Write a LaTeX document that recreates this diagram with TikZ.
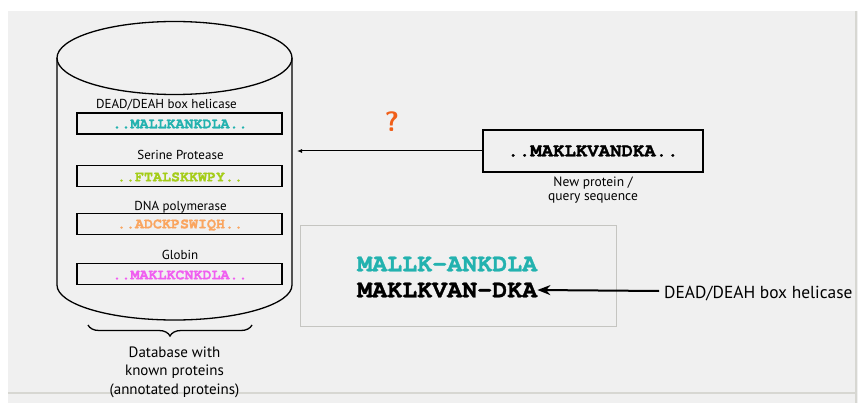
\documentclass[tikz,border=0pt]{standalone}
\usepackage{fontspec}
\setmainfont{PT Sans}
\newfontfamily\seqfont{texgyrecursor}[Extension=.otf,UprightFont=*-regular,BoldFont=*-bold,BoldFeatures={FakeBold=1.2}]
\usetikzlibrary{decorations.pathreplacing,arrows.meta}
\definecolor{bggray}{RGB}{240,240,240}
\definecolor{rulegray}{RGB}{215,215,210}
\definecolor{seqteal}{RGB}{35,178,175}
\definecolor{seqlime}{RGB}{165,205,25}
\definecolor{seqorange}{RGB}{250,165,95}
\definecolor{seqpink}{RGB}{240,95,240}
\definecolor{qorange}{RGB}{240,95,25}

\begin{document}
\begin{tikzpicture}
        [x=1pt,y=-1pt,
         lbl/.style={inner sep=0,font=\fontsize{13}{15}\selectfont},
         seqbox/.style={draw,line width=1.4pt,minimum width=205pt,minimum height=21pt,inner sep=0},
         seqtxt/.style={inner sep=0,font=\seqfont\bfseries\fontsize{15}{15}\selectfont},
         every draw/.style={black}]

        \useasboundingbox (0,0) rectangle (858,403);
        \fill[bggray] (8,11) rectangle (858,403);
        \draw[rulegray,line width=1.2pt] (856,11) -- (856,403);
        \draw[rulegray,line width=1.2pt] (8,393) -- (856,393);

        % database cylinder
        \draw[line width=1.3pt] (174.5,58) ellipse [x radius=117.5, y radius=36.5];
        \draw[line width=1.3pt] (57,58) -- (57,285) arc[start angle=180, end angle=0, x radius=117.5, y radius=35] -- (292,58);

        \node[lbl] (l1) at (166.5,105) {DEAD/DEAH box helicase};
        \node[seqbox] (b1) at (179.5,123.5) {};
        \node[seqtxt,text=seqteal] (s1) at (180,124) {..MALLKANKDLA..};

        \node[lbl] (l2) at (180.5,155) {Serine Protease};
        \node[seqbox] (b2) at (179.5,176) {};
        \node[seqtxt,text=seqlime] (s2) at (180,177) {..FTALSKKWPY..};

        \node[lbl] (l3) at (180.5,207) {DNA polymerase};
        \node[seqbox] (b3) at (179.5,224) {};
        \node[seqtxt,text=seqorange] (s3) at (180,225) {..ADCKPSWIQH..};

        \node[lbl] (l4) at (180,255) {Globin};
        \node[seqbox] (b4) at (179.5,274) {};
        \node[seqtxt,text=seqpink] (s4) at (180,275) {..MAKLKCNKDLA..};

        \coordinate (braceL) at (88,325);
        \coordinate (braceR) at (252,325);
        \draw[line width=1.3pt,decorate,decoration={brace,amplitude=11pt,mirror}] (braceL) -- (braceR);
        \node[lbl,align=center,font=\fontsize{15}{18.5}\selectfont] (dbname) at (174.5,372) {Database with\\known proteins\\(annotated proteins)};

        % query
        \node[draw,line width=1.3pt,minimum width=220pt,minimum height=42pt,inner sep=0,font=\seqfont\bfseries\fontsize{19}{19}\selectfont] (query) at (593,151) {..MAKLKVANDKA..};
        \node[lbl,align=center,font=\fontsize{13.5}{14.5}\selectfont] (qname) at (593,190) {New protein /\\query sequence};
        \coordinate (dbside) at (297,151);
        \draw[line width=1pt,-{Latex[length=5pt,width=4pt]}] (query) -- (dbside);
        \node[inner sep=0,text=qorange,font=\sffamily\bfseries\fontsize{28}{28}\selectfont] (ask) at (392,122) {?};

        % alignment
        \node[draw=rulegray!80!gray,line width=0.8pt,minimum width=316pt,minimum height=101pt,inner sep=0] (aln) at (458,275.5) {};
        \node[inner sep=0,anchor=west,text=seqteal,font=\seqfont\bfseries\fontsize{25}{25}\selectfont] (alnA) at (357,264) {MALLK-ANKDLA};
        \node[inner sep=0,anchor=west,font=\seqfont\bfseries\fontsize{25}{25}\selectfont] (alnB) at (357,290) {MAKLKVAN-DKA};
        \node[inner sep=0,anchor=west,font=\fontsize{17.4}{19}\selectfont] (hit) at (664,294) {DEAD/DEAH box helicase};
        \draw[line width=2pt,-{Stealth[length=13pt,width=10pt]}] (hit.west) ++(-5,-3) coordinate (hitend) (hitend) -- (alnB.east);

      \end{tikzpicture}
\end{document}
